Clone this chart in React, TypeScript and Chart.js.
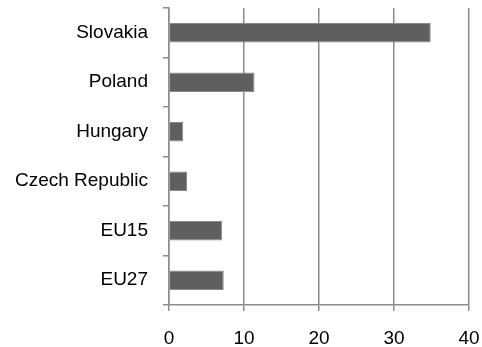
import React, { useEffect, useRef } from "react";
import { Chart, registerables } from "chart.js";

Chart.register(...registerables);

const categories = ["Slovakia", "Poland", "Hungary", "Czech Republic", "EU15", "EU27"];
const values = [34.9, 11.4, 1.9, 2.4, 7.1, 7.3];
const xTicks = [0, 10, 20, 30, 40];

export default function App() {
  const ref = useRef<HTMLCanvasElement>(null);
  useEffect(() => {
    document.body.style.margin = "0";
    const chart = new Chart(ref.current!, {
      type: "bar",
      data: {
        labels: categories,
        datasets: [
          {
            data: values,
            backgroundColor: "#5f5f5f",
            borderColor: "#8a8a8a",
            borderWidth: 1,
            barPercentage: 0.39,
            categoryPercentage: 1,
          },
        ],
      },
      options: {
        indexAxis: "y",
        animation: false,
        responsive: false,
        maintainAspectRatio: false,
        layout: { padding: { top: 8, right: 13, bottom: 0, left: 0 } },
        plugins: { legend: { display: false }, tooltip: { enabled: false } },
        scales: {
          x: {
            min: xTicks[0],
            max: xTicks[xTicks.length - 1],
            afterBuildTicks: (s: any) => {
              s.ticks = xTicks.map((v) => ({ value: v }));
            },
            afterFit: (s: any) => {
              s.height = 42;
              s.paddingLeft = 0;
              s.paddingRight = 0;
              s.paddingTop = 0;
              s.paddingBottom = 0;
            },
            grid: { color: "#8c8c8c", lineWidth: 1.5, tickLength: 6, drawTicks: true },
            border: { color: "#8c8c8c", width: 1.5 },
            ticks: { color: "#000", font: { family: "Liberation Sans", size: 19 }, padding: 16 },
          },
          y: {
            afterFit: (s: any) => {
              s.width = 169;
              s.paddingLeft = 0;
              s.paddingRight = 0;
              s.paddingTop = 0;
              s.paddingBottom = 0;
            },
            grid: { drawOnChartArea: false, color: "#8c8c8c", lineWidth: 1.5, tickLength: 6, offset: true },
            border: { color: "#8c8c8c", width: 1.5 },
            ticks: { color: "#000", font: { family: "Liberation Sans", size: 19 }, padding: 15 },
          },
        },
      },
    });
    return () => chart.destroy();
  }, []);
  return <canvas ref={ref} width={482} height={347} style={{ display: "block" }} />;
}
